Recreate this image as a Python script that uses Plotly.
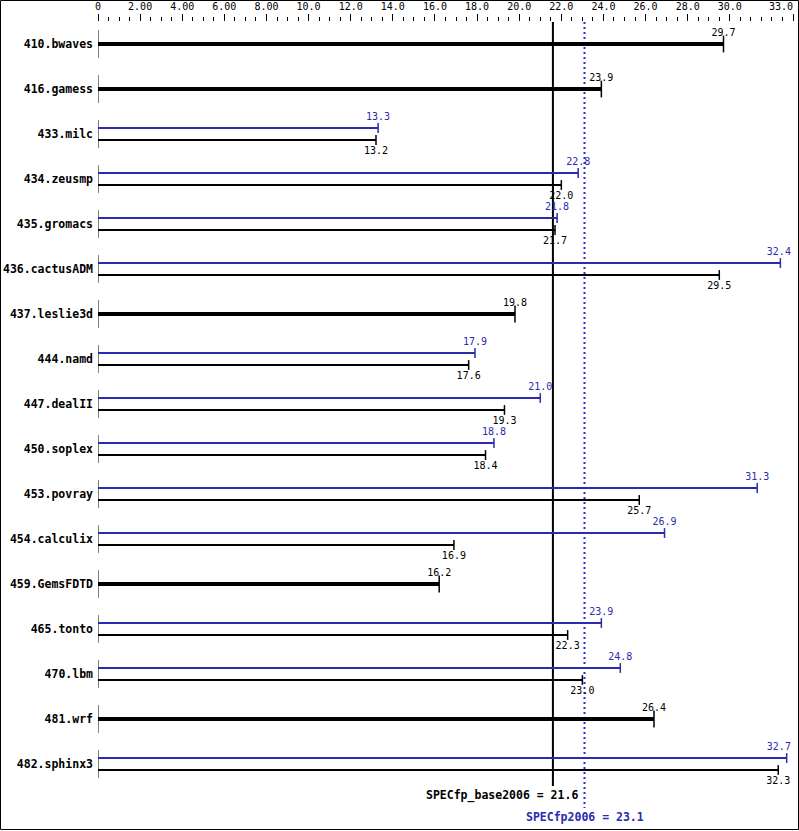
import plotly.graph_objects as go

benchmarks = ["410.bwaves", "416.gamess", "433.milc", "434.zeusmp", "435.gromacs",
              "436.cactusADM", "437.leslie3d", "444.namd", "447.dealII", "450.soplex",
              "453.povray", "454.calculix", "459.GemsFDTD", "465.tonto", "470.lbm",
              "481.wrf", "482.sphinx3"]
base = [29.7, 23.9, 13.2, 22.0, 21.7, 29.5, 19.8, 17.6, 19.3, 18.4, 25.7, 16.9,
        16.2, 22.3, 23.0, 26.4, 32.3]
peak = [None, None, 13.3, 22.8, 21.8, 32.4, None, 17.9, 21.0, 18.8, 31.3, 26.9,
        None, 23.9, 24.8, None, 32.7]
base_mean = 21.6
peak_mean = 23.1
tick_vals = [0, 2, 4, 6, 8, 10, 12, 14, 16, 18, 20, 22, 24, 26, 28, 30, 33]
tick_text = ["0", "2.00", "4.00", "6.00", "8.00", "10.0", "12.0", "14.0", "16.0",
             "18.0", "20.0", "22.0", "24.0", "26.0", "28.0", "30.0", ""]
last_tick_text = "33.0"

BLUE = "#2a2ab2"
BLACK = "#000000"
MONO = "DejaVu Sans Mono"
OFF = 0.133
X_MAX = 33.0
LABEL_X_MAX = 32.33   # labels are kept inside the frame

# pixel geometry
W, H = 799, 831
ML, MR, MT, MB = 98, 6, 22, 21
ROW0, ROWSTEP = 44, 45
plot_h = H - MT - MB
plot_w = W - ML - MR
y_top = (MT - ROW0) / ROWSTEP
y_bot = (H - MB - ROW0) / ROWSTEP
LBL_UP_THIN = 11 / ROWSTEP
LBL_UP_THICK = 10.5 / ROWSTEP
LBL_DOWN = 12 / ROWSTEP

thick_x, thick_y = [], []
bthin_x, bthin_y = [], []
peak_x, peak_y = [], []
seg_x, seg_y = [], []
for i, (b, p) in enumerate(zip(base, peak)):
    seg_x += [0, 0, None]
    seg_y += [i - 0.31, i + 0.31, None]
    if p is None:
        thick_x += [0, b, None]
        thick_y += [i, i, None]
    else:
        bthin_x += [0, b, None]
        bthin_y += [i + OFF, i + OFF, None]
        peak_x += [0, p, None]
        peak_y += [i - OFF, i - OFF, None]

fig = go.Figure()

# left per-row axis segments
fig.add_trace(go.Scatter(x=seg_x, y=seg_y, mode="lines",
                         line=dict(color=BLACK, width=1), hoverinfo="skip"))

# reference lines
fig.add_trace(go.Scatter(x=[base_mean, base_mean], y=[y_top, (786 - ROW0) / ROWSTEP],
                         mode="lines", line=dict(color=BLACK, width=2), hoverinfo="skip"))
fig.add_trace(go.Scatter(x=[peak_mean, peak_mean], y=[y_top, (808 - ROW0) / ROWSTEP],
                         mode="lines", line=dict(color="#2a2ad0", width=2, dash="2px,3px"),
                         hoverinfo="skip"))

# bars
fig.add_trace(go.Scatter(x=thick_x, y=thick_y, mode="lines",
                         line=dict(color=BLACK, width=4), hoverinfo="skip"))
fig.add_trace(go.Scatter(x=bthin_x, y=bthin_y, mode="lines",
                         line=dict(color=BLACK, width=2), hoverinfo="skip"))
fig.add_trace(go.Scatter(x=peak_x, y=peak_y, mode="lines",
                         line=dict(color=BLUE, width=2), hoverinfo="skip"))

single_idx = [i for i, p in enumerate(peak) if p is None]
pair_idx = [i for i, p in enumerate(peak) if p is not None]

# end caps
fig.add_trace(go.Scatter(
    x=[base[i] for i in single_idx], y=single_idx, mode="markers",
    marker=dict(symbol="line-ns", size=12, line=dict(color=BLACK, width=1.5)),
    cliponaxis=False, hoverinfo="skip"))
fig.add_trace(go.Scatter(
    x=[base[i] for i in pair_idx], y=[i + OFF for i in pair_idx], mode="markers",
    marker=dict(symbol="line-ns", size=7, line=dict(color=BLACK, width=1.5)),
    cliponaxis=False, hoverinfo="skip"))
fig.add_trace(go.Scatter(
    x=[peak[i] for i in pair_idx], y=[i - OFF for i in pair_idx], mode="markers",
    marker=dict(symbol="line-ns", size=7, line=dict(color=BLUE, width=1.5)),
    cliponaxis=False, hoverinfo="skip"))

# value labels
fig.add_trace(go.Scatter(
    x=[min(base[i], LABEL_X_MAX) for i in single_idx],
    y=[i - LBL_UP_THICK for i in single_idx], mode="text",
    text=[f"{base[i]:.1f}" for i in single_idx], textposition="middle center",
    textfont=dict(family=MONO, size=10, color=BLACK), cliponaxis=False, hoverinfo="skip"))
fig.add_trace(go.Scatter(
    x=[min(base[i], LABEL_X_MAX) for i in pair_idx],
    y=[i + OFF + LBL_DOWN for i in pair_idx], mode="text",
    text=[f"{base[i]:.1f}" for i in pair_idx], textposition="middle center",
    textfont=dict(family=MONO, size=10, color=BLACK), cliponaxis=False, hoverinfo="skip"))
fig.add_trace(go.Scatter(
    x=[min(peak[i], LABEL_X_MAX) for i in pair_idx],
    y=[i - OFF - LBL_UP_THIN for i in pair_idx], mode="text",
    text=[f"{peak[i]:.1f}" for i in pair_idx], textposition="middle center",
    textfont=dict(family=MONO, size=10, color=BLUE), cliponaxis=False, hoverinfo="skip"))


def px_to_paper_x(px):
    return (px - ML) / plot_w


def px_to_paper_y(py):
    return (H - MB - py) / plot_h


fig.update_layout(
    width=W, height=H,
    margin=dict(l=ML, r=MR, t=MT, b=MB, pad=0, autoexpand=False),
    paper_bgcolor="white", plot_bgcolor="white",
    showlegend=False,
    xaxis=dict(range=[0, X_MAX], side="top", showgrid=False, zeroline=False,
               showline=False, automargin=False,
               tickmode="array", tickvals=tick_vals, ticktext=tick_text,
               ticks="outside", ticklen=7, tickwidth=1, tickcolor=BLACK,
               tickfont=dict(family=MONO, size=10, color=BLACK),
               minor=dict(dtick=0.5, tick0=0, ticks="outside", ticklen=4,
                          tickwidth=1, tickcolor=BLACK, showgrid=False)),
    yaxis=dict(range=[y_bot, y_top], showgrid=False, zeroline=False, showline=False,
               automargin=False,
               tickmode="array", tickvals=list(range(len(benchmarks))),
               ticktext=benchmarks, ticks="", ticklabelstandoff=4,
               tickfont=dict(family=MONO, size=11.5, color=BLACK, weight="bold")),
    shapes=[dict(type="rect", xref="paper", yref="paper",
                 x0=px_to_paper_x(0.5), x1=px_to_paper_x(798.5),
                 y0=px_to_paper_y(829.5), y1=px_to_paper_y(0.5),
                 line=dict(color=BLACK, width=1), fillcolor="rgba(0,0,0,0)")],
    annotations=[
        dict(x=X_MAX, xref="x", y=px_to_paper_y(7), yref="paper", text=last_tick_text,
             showarrow=False, xanchor="right", yanchor="middle", xshift=2,
             font=dict(family=MONO, size=10, color=BLACK)),
        dict(x=base_mean, xref="x", y=px_to_paper_y(795), yref="paper",
             text=f"SPECfp_base2006 = {base_mean:.1f}", showarrow=False,
             xanchor="right", yanchor="middle", xshift=27,
             font=dict(family=MONO, size=11.5, color=BLACK, weight="bold")),
        dict(x=peak_mean, xref="x", y=px_to_paper_y(817), yref="paper",
             text=f"SPECfp2006 = {peak_mean:.1f}", showarrow=False,
             xanchor="center", yanchor="middle",
             font=dict(family=MONO, size=11.5, color=BLUE, weight="bold")),
    ],
)

fig.write_html("out.html", config={"displayModeBar": False, "staticPlot": True},
               post_script="document.body.style.margin='0';")
